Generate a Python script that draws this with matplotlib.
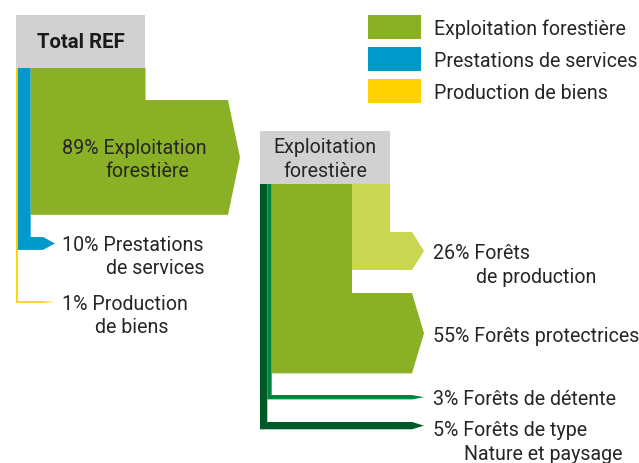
import matplotlib.pyplot as plt
from matplotlib.patches import Polygon

plt.rcParams['font.family'] = ['Roboto', 'DejaVu Sans']

# total REF split
total_first = ["Exploitation", "Prestations", "Production"]
total_second = ["forestière", "de services", "de biens"]
total_pct = [89, 10, 1]
total_colors = ["#8ab025", "#0099cc", "#ffd200"]

# exploitation forestière split
forest_first = ["Forêts", "Forêts protectrices", "Forêts de détente", "Forêts de type"]
forest_second = ["de production", "", "", "Nature et paysage"]
forest_pct = [26, 55, 3, 5]
forest_colors = ["#c8d651", "#8ab025", "#00853e", "#005a28"]

legend_labels = ["Exploitation forestière", "Prestations de services", "Production de biens"]

TXT = "#262626"
GREY = "#d0d1d0"


def branch(ax, xl, w, y_top, band_top, x_end, tip, color):
    pts = [(xl, y_top), (xl + w, y_top), (xl + w, band_top), (x_end, band_top),
           (x_end + tip, band_top + w / 2), (x_end, band_top + w), (xl, band_top + w)]
    ax.add_patch(Polygon(pts, closed=True, facecolor=color, edgecolor='none'))


def tree(ax, x0, y0, box_w, box_h, scale, pct, colors, band_tops, x_ends):
    # leftmost column belongs to the last item
    xl = x0
    for i in reversed(range(len(pct))):
        w = max(pct[i] * scale, 1.8)
        branch(ax, xl, w, y0 + box_h, band_tops[i], x_ends[i], 12, colors[i])
        xl += w
    ax.add_patch(plt.Rectangle((x0, y0), box_w, box_h, facecolor=GREY, edgecolor='none'))


fig = plt.figure(figsize=(6.39, 4.64), dpi=100)
ax = fig.add_axes([0, 0, 1, 1])
ax.set_xlim(0, 639)
ax.set_ylim(464, 0)
ax.axis('off')

fs = 14.1
fw = 'normal'

# left tree
tree(ax, 16, 16, 129, 53, 1.29, total_pct, total_colors, [101, 238, 302], [228, 43, 43])
ax.text(80.5, 48, "Total REF", ha='center', va='baseline', fontsize=14.7, fontweight='bold', color='#1a1a1a')
first_y = [154, 251.5, 310]
second_x = [105, 106, 95]
for i in range(3):
    ax.text(62, first_y[i], f"{total_pct[i]}% {total_first[i]}", ha='left', va='baseline',
            fontsize=fs, fontweight=fw, color=TXT)
    ax.text(second_x[i], first_y[i] + 23, total_second[i], ha='left', va='baseline',
            fontsize=fs, fontweight=fw, color=TXT)

# right tree
tree(ax, 260, 132, 130, 53, 130 / 89, forest_pct, forest_colors, [233, 294, 396, 423], [412] * 4)
ax.text(325, 153, "Exploitation", ha='center', va='baseline', fontsize=fs, fontweight=fw, color=TXT)
ax.text(325, 177, "forestière", ha='center', va='baseline', fontsize=fs, fontweight=fw, color=TXT)
f_first_y = [259, 342.5, 405, 436.5]
f_second_x = [476, 0, 0, 464]
for i in range(4):
    ax.text(433, f_first_y[i], f"{forest_pct[i]}% {forest_first[i]}", ha='left', va='baseline',
            fontsize=fs, fontweight=fw, color=TXT)
    if forest_second[i]:
        ax.text(f_second_x[i], f_first_y[i] + 24, forest_second[i], ha='left', va='baseline',
                fontsize=fs, fontweight=fw, color=TXT)

# legend
for i, lab in enumerate(legend_labels):
    ax.add_patch(plt.Rectangle((368, 16 + i * 32), 53, 24, facecolor=total_colors[i], edgecolor='none'))
    ax.text(434, 35 + i * 32, lab, ha='left', va='baseline', fontsize=fs, fontweight=fw, color=TXT)

fig.savefig('out.png', dpi=100)
